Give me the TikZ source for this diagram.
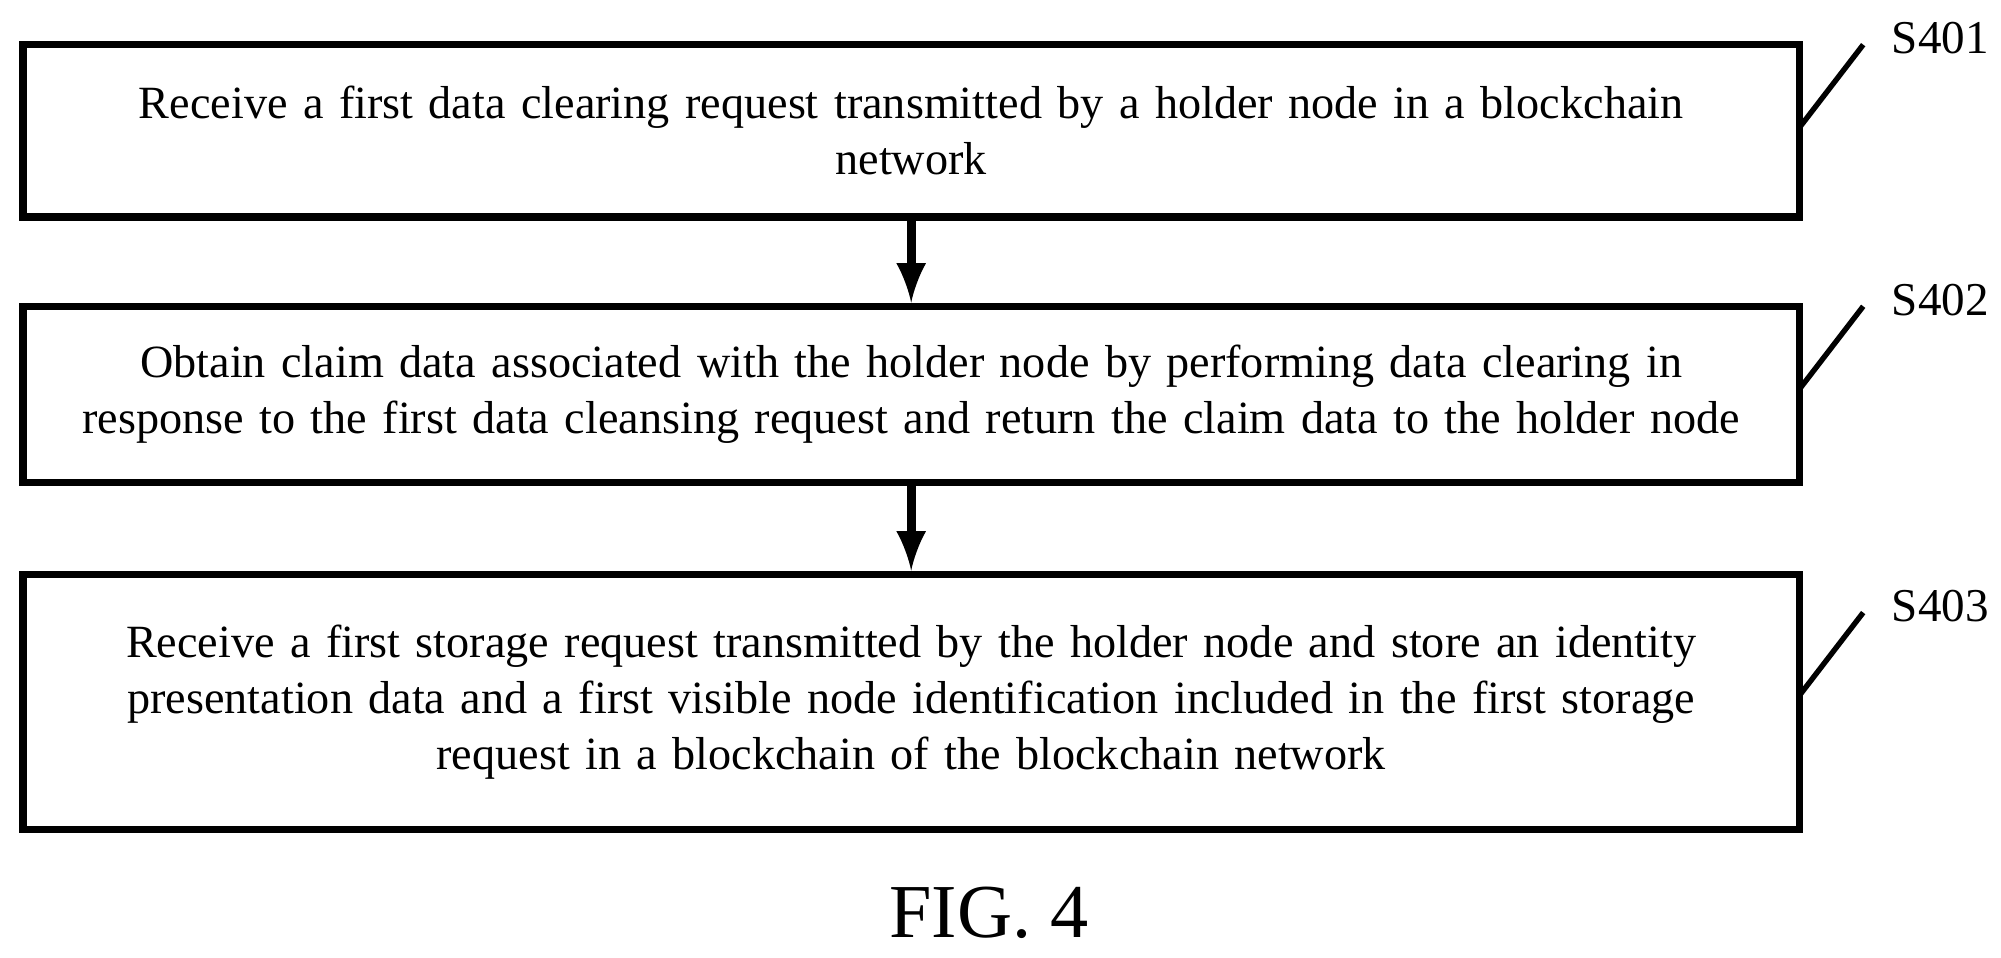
\documentclass[tikz,border=0pt]{standalone}
\usepackage{fontspec}
\setmainfont{Liberation Serif}
\usetikzlibrary{positioning}
\begin{document}
\begin{tikzpicture}[
    stepbox/.style={draw, line width=1.6pt, minimum width=13.92cm, text width=13.8cm,
      align=center, font=\fontsize{10.3}{12.5}\selectfont, inner sep=0pt},
    arr/.style={-latex, line width=2pt}]
\useasboundingbox (0,0) rectangle (15.68,-7.50);
\node[stepbox, minimum height=1.35cm] (s1) at (7.14,-1.025)
  {Receive a first data clearing request transmitted by a holder node in a blockchain\\ network};
\node[stepbox, minimum height=1.38cm] (s2) at (7.14,-3.09)
  {Obtain claim data associated with the holder node by performing data clearing in\\ response to the first data cleansing request and return the claim data to the holder node};
\node[stepbox, minimum height=2.00cm] (s3) at (7.14,-5.50)
  {Receive a first storage request transmitted by the holder node and store an identity\\ presentation data and a first visible node identification included in the first storage\\ request in a blockchain of the blockchain network};
\draw[arr] (s1) -- (s2);
\draw[arr] (s2) -- (s3);
% step labels
\foreach \n/\lab/\y in {s1/S401/-1.00, s2/S402/-3.05, s3/S403/-5.45} {
  \coordinate (t\n) at (14.60,\y+0.65);
  \draw[line width=1.2pt] (14.10,\y) -- (t\n);
  \node[font=\fontsize{10.5}{12}\selectfont, anchor=south west] (l\n) at (14.70,\y+0.45) {\lab};
}
\node[font=\fontsize{17}{20}\selectfont] (fig) at (7.75,-7.15) {FIG. 4};
\end{tikzpicture}
\end{document}
